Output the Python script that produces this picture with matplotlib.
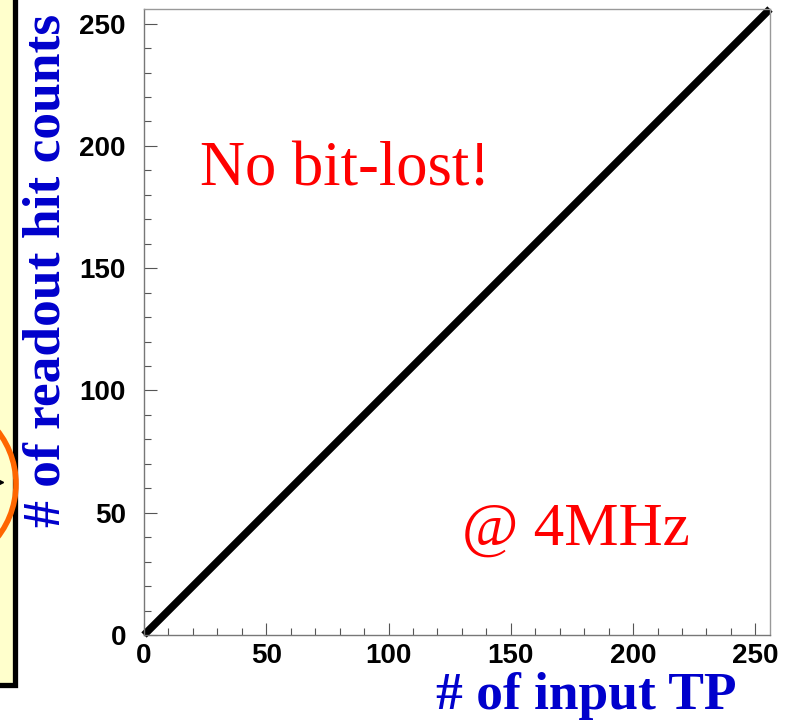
import matplotlib
matplotlib.use("Agg")
from matplotlib import pyplot as plt
from matplotlib.patches import Rectangle, Circle
from matplotlib.ticker import MultipleLocator

# input test pulses vs. hits read back
input_tp = [0, 256]
readout_hits = [0, 256]
x_ticks = [0, 50, 100, 150, 200, 250]
y_ticks = [0, 50, 100, 150, 200, 250]

W, H = 792, 720
fig = plt.figure(figsize=(W / 100, H / 100), dpi=100)

# slide background pieces on the left (pixel coordinates)
bg = fig.add_axes([0, 0, 1, 1], zorder=0)
bg.set_xlim(0, W)
bg.set_ylim(H, 0)
bg.axis("off")
bg.add_patch(Rectangle((-20, -20), 35, 705, facecolor="#ffffcc",
                       edgecolor="black", linewidth=3.8))
bg.add_patch(Circle((-70, 484), 86, facecolor="none",
                    edgecolor="#ff6600", linewidth=4.0))
bg.plot([1], [482], marker=">", color="black", markersize=3)

ax = fig.add_axes([144 / W, 1 - 635 / H, 626 / W, 626 / H], zorder=1)
ax.plot(input_tp, readout_hits, color="black", linewidth=5.4,
        solid_capstyle="butt", clip_on=False)
ax.set_xlim(0, 256)
ax.set_ylim(0, 256)
ax.set_xticks(x_ticks)
ax.set_yticks(y_ticks)
ax.xaxis.set_minor_locator(MultipleLocator(10))
ax.yaxis.set_minor_locator(MultipleLocator(10))
ax.tick_params(which="both", direction="in", color="#555555", width=0.8,
               top=False, right=False)
ax.tick_params(which="major", length=9)
ax.tick_params(which="minor", length=5)
ax.tick_params(axis="x", pad=6)
ax.tick_params(axis="y", pad=13)
for lab in ax.get_xticklabels() + ax.get_yticklabels():
    lab.set_fontfamily("Liberation Sans")
    lab.set_fontweight("bold")
    lab.set_fontsize(20)
for s in ax.spines.values():
    s.set_color("#999999")
    s.set_linewidth(1.0)
ax.spines["left"].set_color("#777777")
ax.spines["bottom"].set_color("#777777")

ax.text(23, 184, "No bit-lost!", color="red", fontsize=45,
        family="Liberation Serif", va="baseline", ha="left")
ax.text(130, 37, "@ 4MHz", color="red", fontsize=44,
        family="Liberation Serif", va="baseline", ha="left")

fig.text(736 / W, 1 - 709 / H, "# of input TP", color="#0000cc",
         fontsize=38.5, family="Liberation Serif", fontweight="bold",
         ha="right", va="baseline")
fig.text(47 / W, 1 - 270 / H, "# of readout hit counts", color="#0000cc",
         fontsize=38.5, family="Liberation Serif", fontweight="bold",
         rotation=90, ha="center", va="center")

fig.savefig("out.png", dpi=100)
